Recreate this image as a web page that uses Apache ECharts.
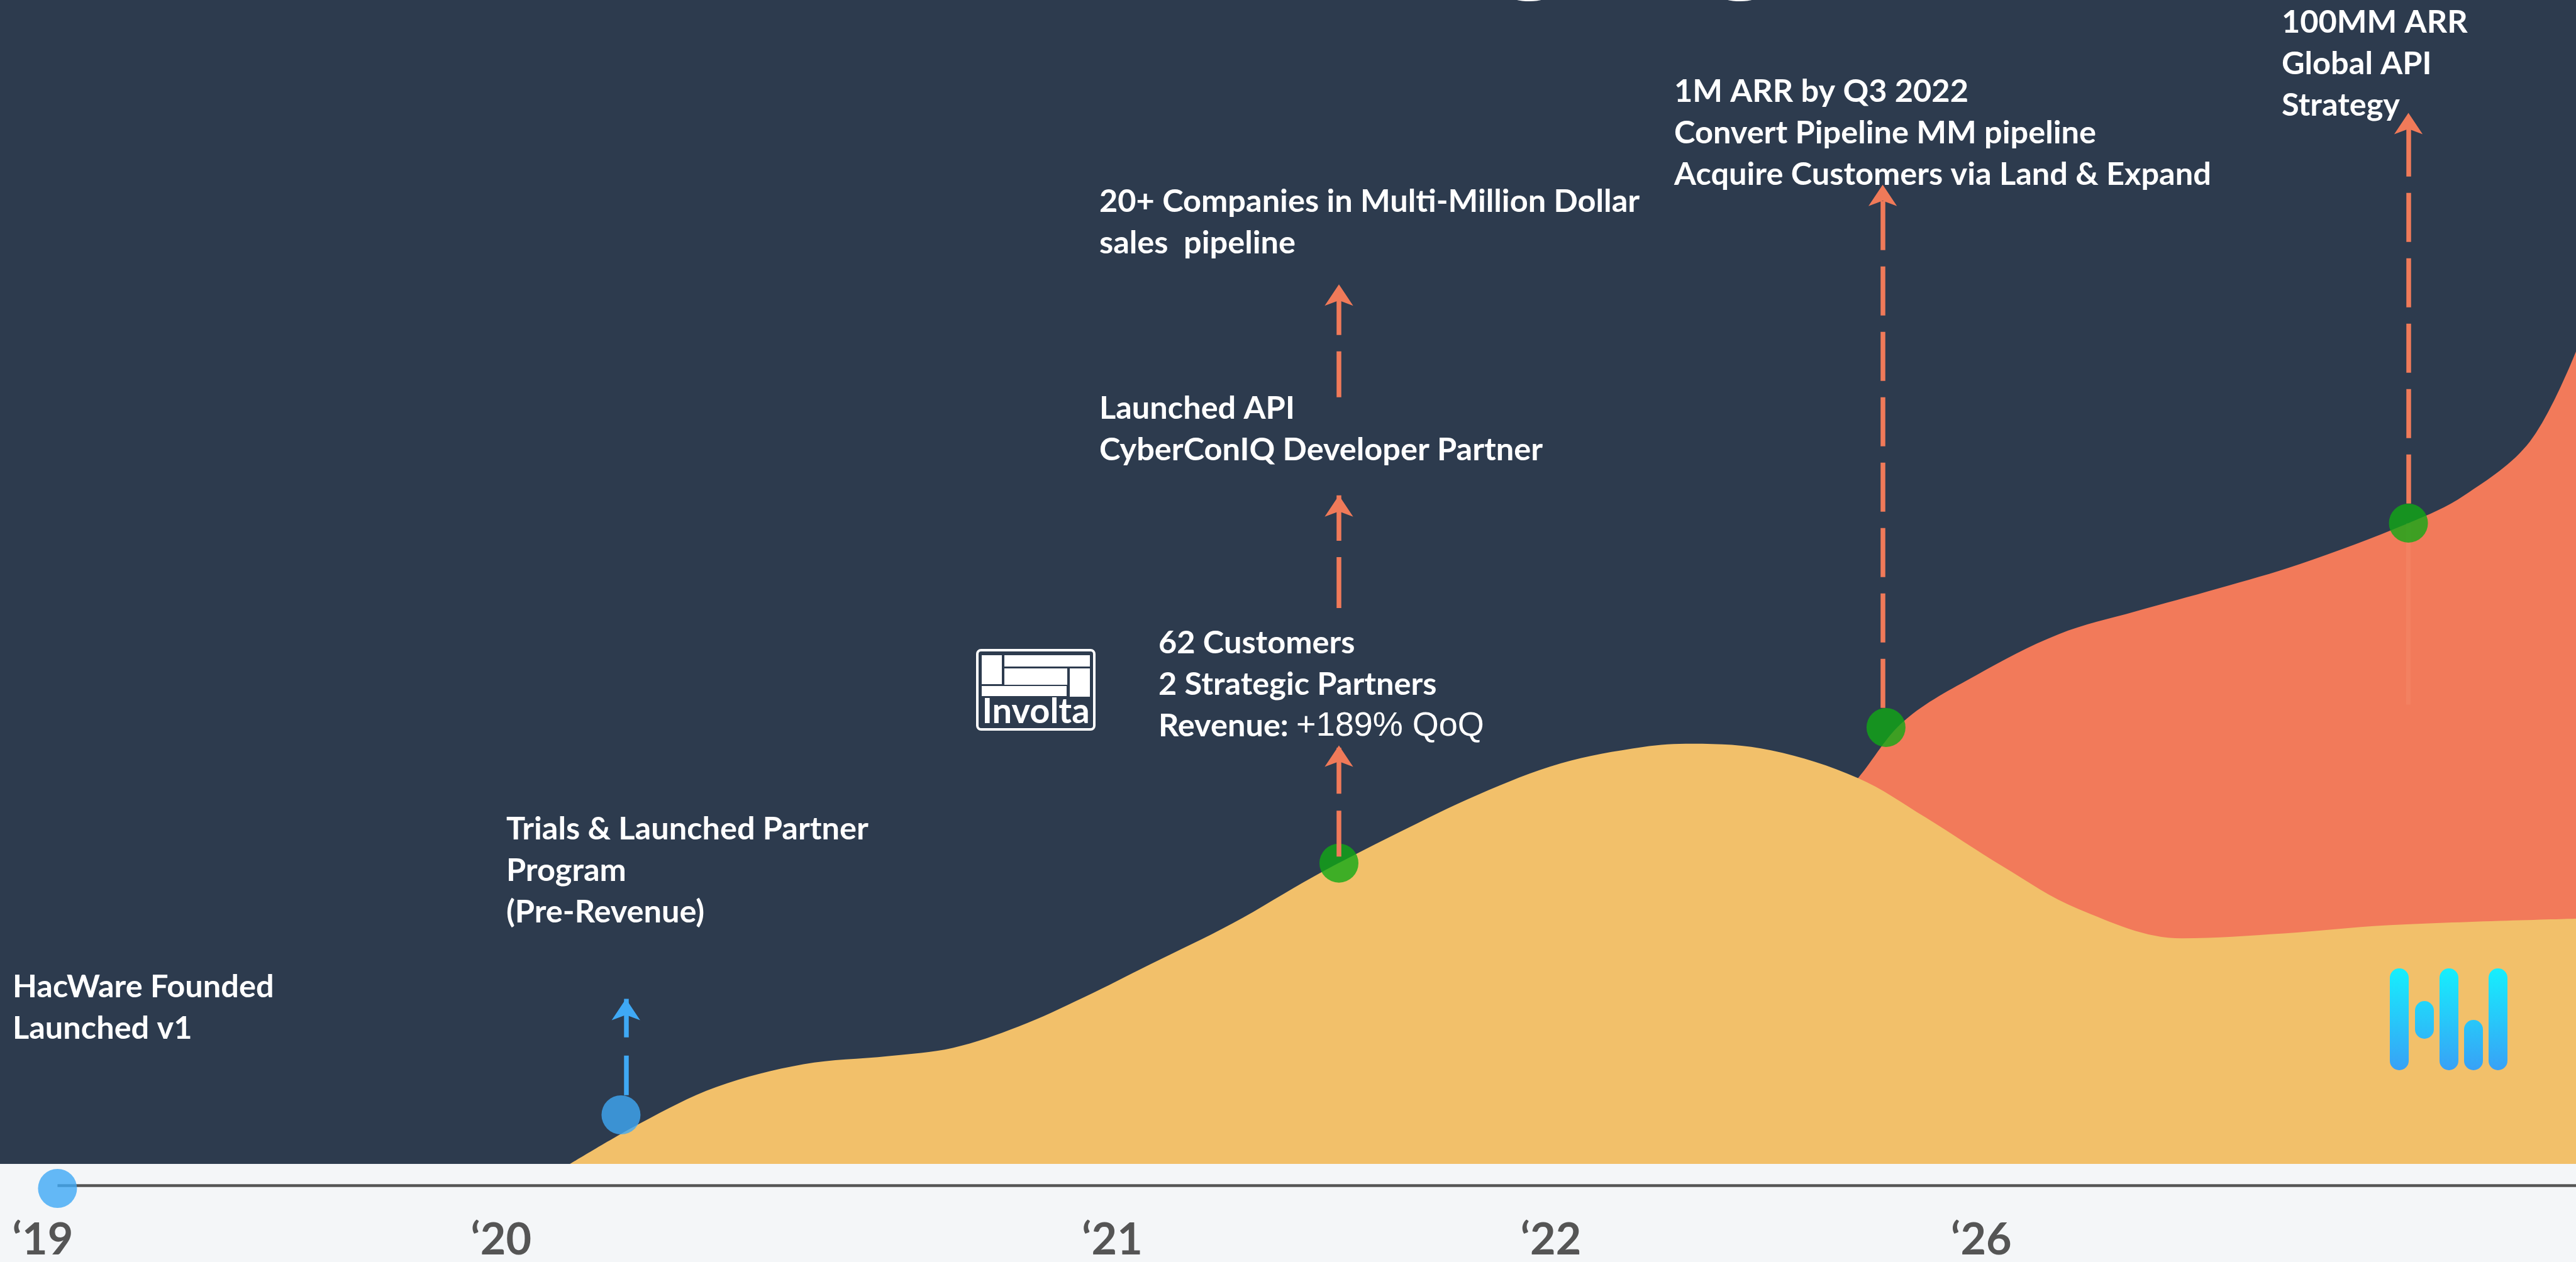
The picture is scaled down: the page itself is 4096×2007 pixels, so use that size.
<!DOCTYPE html>
<html>
<head>
<meta charset="UTF-8">
<title>HacWare timeline</title>
<script src="https://cdn.jsdelivr.net/npm/echarts@6/dist/echarts.min.js"></script>
<style>
	html, body { margin: 0; padding: 0; background: #f4f6f8; }
	#main { width: 4096px; height: 2007px; }
</style>
</head>
<body>
<div id="main"></div>
<script>
	// x = position along the timeline, y = growth level above the baseline
	var yearTicks = [26, 305, 677, 944, 1206];
	var yearLabels = ['‘19', '‘20', '‘21', '‘22', '‘26'];

	// yellow wave (core business)
	var coreGrowth = [[347, 0], [390, 25], [436, 47], [489, 61], [541, 66], [580, 71], [620, 84],
		[660, 102], [700, 122], [750, 147], [800, 176], [850, 202], [900, 226], [950, 245],
		[1000, 255], [1030, 257], [1078, 253], [1131, 236], [1172, 212], [1219, 182],
		[1265, 156], [1328, 138], [1390, 141], [1453, 146], [1568, 150]];
	// orange wave (API business), starts under the yellow one
	var apiGrowth = [[1100, 200], [1131, 236], [1159, 271], [1203, 299], [1253, 324], [1300, 338],
		[1350, 352], [1400, 367], [1466, 392], [1500, 409], [1540, 442], [1568, 497]];

	var paidMilestones = [[815, 184], [1148, 267], [1466, 392]];
	var earlyMilestones = [[35, -15], [378, 30]];
	var timelineSpan = [[35, -13], [1568, -13]];

	// dashed arrows going up from the milestones
	var arrowX = [381, 815, 815, 815, 1146, 1466];
	var arrowFrom = [42, 188, 340, 469, 279, 404];
	var arrowTo = [101, 256, 409, 538, 599, 643];
	var trailX = 1466, trailFrom = 281, trailTo = 392;

	var arrowStyles = [
		{ color: '#3fa9f5', type: [63, 29] },
		{ color: '#f07a59', type: [73, 27] },
		{ color: '#f07a59', type: [81, 26] },
		{ color: '#f07a59', type: [73, 26] },
		{ color: '#f07a59', type: [78, 26] },
		{ color: '#f07a59', type: [78, 26] }
	];

	var arrowData = arrowX.map(function (x, i) {
		return {
			coords: [[x, arrowFrom[i]], [x, arrowTo[i]]],
			lineStyle: arrowStyles[i]
		};
	});

	function note(x, y, lines) {
		return {
			type: 'text', x: x, y: y - 33, z: 10,
			style: {
				text: lines.join('\n'), fill: '#ffffff', fontFamily: 'Lato',
				fontWeight: 'bold', fontSize: 50.5, lineHeight: 66, verticalAlign: 'top'
			}
		};
	}

	var barFill = {
		type: 'linear', x: 0, y: 1540, x2: 0, y2: 1702, global: true,
		colorStops: [{ offset: 0, color: '#16effd' }, { offset: 1, color: '#38a1f6' }]
	};
	function bar(x, y1, y2) {
		return { type: 'rect', shape: { x: x, y: y1, width: 30, height: y2 - y1, r: 15 }, style: { fill: barFill }, z: 10 };
	}
	function block(x, y, w, h) {
		return { type: 'rect', shape: { x: x, y: y, width: w, height: h }, style: { fill: '#ffffff' } };
	}

	var chart = echarts.init(document.getElementById('main'));
	chart.setOption({
		backgroundColor: '#f4f6f8',
		animation: false,
		grid: { left: 0, right: 0, top: 0, bottom: 147, show: true, backgroundColor: '#2d3b4e', borderWidth: 0 },
		xAxis: {
			type: 'value', min: 0, max: 1568,
			axisLine: { show: false }, axisTick: { show: false }, splitLine: { show: false },
			axisLabel: {
				customValues: yearTicks,
				formatter: function (v) { return yearLabels[yearTicks.indexOf(v)]; },
				color: '#555555', fontFamily: 'Lato', fontWeight: 'bold', fontSize: 70, margin: 86
			}
		},
		yAxis: { type: 'value', min: 0, max: 712, show: false, splitLine: { show: false } },
		series: [
			{
				type: 'line', data: apiGrowth, smooth: 0.35, symbol: 'none',
				lineStyle: { width: 0 }, areaStyle: { color: '#f27a5a', opacity: 1 }
			},
			{
				type: 'line', data: coreGrowth, smooth: 0.35, symbol: 'none',
				lineStyle: { width: 0 }, areaStyle: { color: '#f2c06a', opacity: 1 }
			},
			{
				type: 'lines', coordinateSystem: 'cartesian2d', clip: false, z: 3,
				symbol: ['none', 'none'],
				lineStyle: { color: '#555555', width: 4.5, opacity: 1 },
				data: [{ coords: timelineSpan }]
			},
			{
				type: 'lines', coordinateSystem: 'cartesian2d', z: 3,
				symbol: ['none', 'none'],
				lineStyle: { color: '#f59070', width: 7, opacity: 0.35, type: 'solid' },
				data: [{ coords: [[trailX, trailFrom], [trailX, trailTo]] }]
			},
			{
				type: 'scatter', data: paidMilestones, symbolSize: 62, clip: false, z: 4,
				itemStyle: { color: '#10a915' }
			},
			{
				type: 'scatter', data: earlyMilestones, symbolSize: 62, clip: false, z: 4,
				itemStyle: { color: '#3fa9f5' }
			},
			{
				type: 'lines', coordinateSystem: 'cartesian2d', z: 5,
				symbol: ['none', 'arrow'], symbolSize: 34,
				lineStyle: { width: 7.5, opacity: 1 },
				data: arrowData
			}
		],
		graphic: [
			{
				type: 'text', x: 1229, y: -104, z: 10,
				style: { text: 'Company Highlights', fill: '#ffffff', fontFamily: 'Lato', fontWeight: 'bold', fontSize: 210, verticalAlign: 'middle' }
			},
			note(20, 1570, ['HacWare Founded', 'Launched v1']),
			note(805, 1319, ['Trials & Launched Partner', 'Program', '(Pre-Revenue)']),
			{
				type: 'text', x: 1842, y: 1023 - 33, z: 10,
				style: {
					text: '{b|62 Customers}\n{b|2 Strategic Partners}\n{b|Revenue: }{r|+189% QoQ}',
					verticalAlign: 'top',
					rich: {
						b: { fill: '#ffffff', fontFamily: 'Lato', fontWeight: 'bold', fontSize: 50.5, lineHeight: 66 },
						r: { fill: '#ffffff', fontFamily: 'Liberation Sans', fontWeight: 'normal', fontSize: 54, lineHeight: 66 }
					}
				}
			},
			note(1748, 650, ['Launched API', 'CyberConIQ Developer Partner']),
			note(1748, 321, ['20+ Companies in Multi-Million Dollar', 'sales  pipeline']),
			note(2662, 146, ['1M ARR by Q3 2022', 'Convert Pipeline MM pipeline', 'Acquire Customers via Land & Expand']),
			note(3628, 36, ['100MM ARR', 'Global API', 'Strategy']),
			{
				type: 'group', x: 1554, y: 1034, z: 10,
				children: [
					{ type: 'rect', shape: { x: 0, y: 0, width: 186, height: 126, r: 6 }, style: { fill: 'none', stroke: '#ffffff', lineWidth: 4 } },
					block(7, 8, 32, 46),
					block(43, 8, 136, 18),
					block(43, 29, 100, 26),
					block(147, 29, 32, 45),
					block(7, 57, 135, 16),
					{
						type: 'text', x: 93, y: 98,
						style: { text: 'Involta', fill: '#ffffff', fontFamily: 'Lato', fontWeight: 'bold', fontSize: 56, align: 'center', verticalAlign: 'middle' }
					}
				]
			},
			bar(3800, 1540, 1702),
			bar(3840, 1592, 1652),
			bar(3879, 1540, 1702),
			bar(3918, 1622, 1702),
			bar(3957, 1540, 1702)
		]
	});
</script>
</body>
</html>
